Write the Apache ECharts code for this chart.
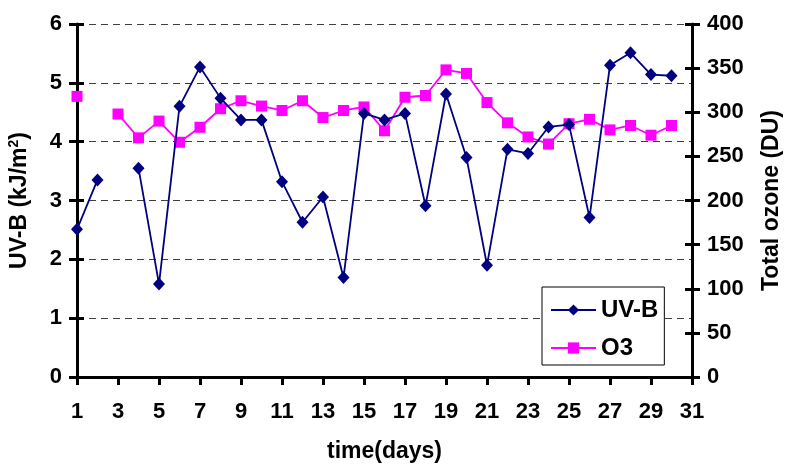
<!DOCTYPE html>
<html>
<head>
<meta charset="utf-8">
<script src="https://cdn.jsdelivr.net/npm/echarts@6/dist/echarts.min.js"></script>
<style>
html,body{margin:0;padding:0;background:#fff;}
#chart{width:785px;height:466px;}
</style>
</head>
<body>
<div id="chart"></div>
<script>
const days = ['1','2','3','4','5','6','7','8','9','10','11','12','13','14','15','16','17','18','19','20','21','22','23','24','25','26','27','28','29','30','31'];
const uvb = [2.51,3.35,null,3.55,1.58,4.60,5.27,4.74,4.37,4.37,3.32,2.63,3.06,1.69,4.48,4.37,4.48,2.91,4.81,3.73,1.90,3.87,3.80,4.25,4.29,2.71,5.30,5.51,5.14,5.12,null];
const o3 = [318,null,298,271,290,266,283,304,313,307,302,313,294,302,306,279,317,319,348,344,311,288,272,264,287,292,280,285,274,285,null];
const uvbTicks = {min:0, max:6, interval:1};
const o3Ticks = {min:0, max:400, interval:50};

const FONT = 'Liberation Sans';
const lbl = {fontFamily: FONT, fontWeight: 'bold', fontSize: 22, color: '#000'};
const ttl = {fontFamily: FONT, fontWeight: 'bold', fontSize: 23, color: '#000'};
const axisLine = {show: true, lineStyle: {color: '#000', width: 3}};

const chart = echarts.init(document.getElementById('chart'), null, {renderer: 'canvas'});
chart.setOption({
  animation: false,
  backgroundColor: '#fff',
  grid: {left: 77, right: 93, top: 24, bottom: 89, containLabel: false, outerBoundsMode: 'none'},
  legend: {
    orient: 'vertical',
    left: 542, top: 287,
    padding: [11, 6, 5, 8],
    itemGap: 14,
    itemWidth: 45, itemHeight: 14,
    backgroundColor: '#fff',
    borderColor: '#000', borderWidth: 1,
    textStyle: {fontFamily: FONT, fontWeight: 'bold', fontSize: 24, color: '#000'},
    data: ['UV-B', 'O3']
  },
  xAxis: [{
    type: 'category',
    data: days,
    boundaryGap: false,
    axisLine: axisLine,
    axisTick: {show: true, interval: 1, length: 8, lineStyle: {color: '#000', width: 3}},
    axisLabel: Object.assign({interval: 1, margin: 24}, lbl),
    splitLine: {show: false},
    name: 'time(days)',
    nameLocation: 'middle',
    nameGap: 63,
    nameTextStyle: ttl
  }],
  yAxis: [{
    type: 'value', position: 'left',
    min: uvbTicks.min, max: uvbTicks.max, interval: uvbTicks.interval,
    axisLine: axisLine,
    axisTick: {show: true, length: 8, lineStyle: {color: '#000', width: 3}},
    axisLabel: Object.assign({margin: 15}, lbl),
    splitLine: {show: true, lineStyle: {color: '#404040', width: 1, type: [7, 5]}},
    name: 'UV-B (kJ/m{sup|2})',
    nameLocation: 'middle',
    nameGap: 44,
    nameTextStyle: Object.assign({}, ttl, {
      rich: {sup: {fontFamily: FONT, fontWeight: 'bold', fontSize: 14, color: '#000', padding: [0, 0, 12, 0]}}
    })
  }, {
    type: 'value', position: 'right',
    min: o3Ticks.min, max: o3Ticks.max, interval: o3Ticks.interval,
    axisLine: axisLine,
    axisTick: {show: true, length: 8, lineStyle: {color: '#000', width: 3}},
    axisLabel: Object.assign({margin: 15}, lbl),
    splitLine: {show: false},
    name: 'Total ozone (DU)',
    nameLocation: 'middle',
    nameGap: 68,
    nameTextStyle: ttl
  }, {
    type: 'value', position: 'left',
    min: uvbTicks.min, max: uvbTicks.max, interval: uvbTicks.interval,
    axisLine: {show: false},
    axisTick: {show: true, inside: true, length: 7, lineStyle: {color: '#000', width: 3}},
    axisLabel: {show: false},
    splitLine: {show: false}
  }, {
    type: 'value', position: 'right',
    min: o3Ticks.min, max: o3Ticks.max, interval: o3Ticks.interval,
    axisLine: {show: false},
    axisTick: {show: true, inside: true, length: 7, lineStyle: {color: '#000', width: 3}},
    axisLabel: {show: false},
    splitLine: {show: false}
  }],
  series: [{
    name: 'UV-B',
    type: 'line',
    yAxisIndex: 0,
    data: uvb,
    z: 4,
    symbol: 'diamond',
    symbolSize: [12, 13],
    showAllSymbol: true,
    connectNulls: false,
    itemStyle: {color: '#000080'},
    lineStyle: {color: '#000080', width: 1.8}
  }, {
    name: 'O3',
    type: 'line',
    yAxisIndex: 1,
    data: o3,
    z: 3,
    symbol: 'rect',
    symbolSize: 11,
    showAllSymbol: true,
    connectNulls: false,
    itemStyle: {color: '#FF00FF'},
    lineStyle: {color: '#FF00FF', width: 1.8}
  }]
});
</script>
</body>
</html>
